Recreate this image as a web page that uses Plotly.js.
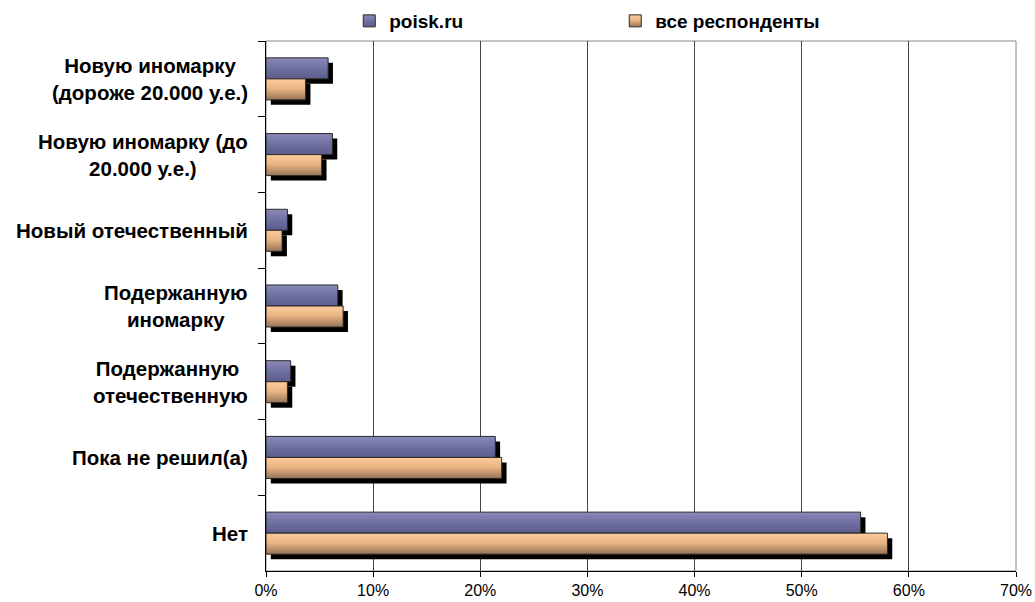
<!DOCTYPE html>
<html><head><meta charset="utf-8">
<script src="https://cdn.plot.ly/plotly-3.0.1.min.js"></script>
<style>html,body{margin:0;padding:0;background:#fff}#chart{width:1035px;height:602px}</style>
</head><body><div id="chart"></div>
<script>
const categories = [
  'Новую иномарку (дороже 20.000 у.е.)',
  'Новую иномарку (до 20.000 у.е.)',
  'Новый отечественный',
  'Подержанную иномарку',
  'Подержанную отечественную',
  'Пока не решил(а)',
  'Нет'
];
const categoryLabels = [
  'Новую иномарку<br>(дороже 20.000 у.е.)',
  'Новую иномарку (до<br>20.000 у.е.)',
  'Новый отечественный',
  'Подержанную<br>иномарку',
  'Подержанную <br>отечественную',
  'Пока не решил(а)',
  'Нет'
];
const seriesNames = ['poisk.ru', 'все респонденты'];
const poiskValues = [5.8, 6.2, 2.0, 6.7, 2.3, 21.4, 55.5];
const allValues   = [3.7, 5.2, 1.5, 7.2, 2.0, 22.0, 58.0];
const xTickVals = [0, 10, 20, 30, 40, 50, 60, 70];
const xTickText = ['0%', '10%', '20%', '30%', '40%', '50%', '60%', '70%'];

const FONT = '"Liberation Sans", Arial, sans-serif';
const BW = 0.2775;      // bar thickness in category units
const SH_Y = 0.066;     // shadow vertical shift (category units)
const SH_X = 0.45;      // shadow horizontal shift (x units)

function bold(s) { return '<b>' + s.split('<br>').join('</b><br><b>') + '</b>'; }

function shadow(vals, off) {
  return {type: 'bar', orientation: 'h', y: categories, x: vals, base: SH_X,
    offset: off + SH_Y, width: BW, marker: {color: '#000', line: {width: 0}},
    showlegend: false, hoverinfo: 'skip'};
}
const traces = [
  shadow(poiskValues, -BW),
  shadow(allValues, 0),
  {type: 'bar', orientation: 'h', name: bold(seriesNames[0]), y: categories, x: poiskValues,
   offset: -BW, width: BW, marker: {color: '#7070a2', line: {color: '#2a2a2a', width: 1}}},
  {type: 'bar', orientation: 'h', name: bold(seriesNames[1]), y: categories, x: allValues,
   offset: 0, width: BW, marker: {color: '#dcaa80', line: {color: '#2a2a2a', width: 1}}}
];

const annotations = categories.map((c, i) => ({
  xref: 'paper', yref: 'y', x: 0, y: c, xanchor: 'right', yanchor: 'middle',
  xshift: -16, align: 'center', showarrow: false, text: bold(categoryLabels[i]),
  font: {family: FONT, size: 20.5, color: '#000'}
}));

const layout = {
  width: 1035, height: 602,
  margin: {l: 266, r: 19, t: 41, b: 31, autoexpand: false},
  paper_bgcolor: '#fff', plot_bgcolor: '#fff',
  barmode: 'overlay',
  font: {family: FONT, color: '#000'},
  xaxis: {range: [0, 70], tickvals: xTickVals, ticktext: xTickText,
    showgrid: true, gridcolor: '#444', gridwidth: 1, zeroline: false,
    showline: true, linecolor: '#000', linewidth: 1,
    ticks: 'outside', ticklen: 5, tickcolor: '#000',
    tickfont: {family: FONT, size: 16, color: '#000'}, fixedrange: true},
  yaxis: {type: 'category', categoryorder: 'array', categoryarray: categories,
    range: [6.5, -0.5], showgrid: false, zeroline: false,
    showline: true, linecolor: '#000', linewidth: 1,
    ticks: 'outside', tickson: 'boundaries', ticklen: 7, tickcolor: '#000',
    showticklabels: false, fixedrange: true},
  shapes: [{type: 'rect', xref: 'paper', yref: 'paper', x0: 0, x1: 1, y0: 0, y1: 1,
    line: {color: '#888', width: 1}, layer: 'below'}],
  legend: {orientation: 'h', x: 0.111, xanchor: 'left', y: 1.0377, yanchor: 'middle',
    entrywidth: 221, entrywidthmode: 'pixels', traceorder: 'normal',
    font: {family: FONT, size: 19, color: '#000'}, bgcolor: 'rgba(0,0,0,0)'},
  annotations: annotations,
  showlegend: true
};

function addGradients(gd) {
  const svg = gd.querySelector('svg.main-svg');
  if (!svg) return;
  const ns = 'http://www.w3.org/2000/svg';
  let defs = svg.querySelector('defs');
  if (!defs) { defs = document.createElementNS(ns, 'defs'); svg.insertBefore(defs, svg.firstChild); }
  const grads = {
    gP: [['0%', '#8989ba'], ['55%', '#6d6d9f'], ['100%', '#5b5b8c']],
    gO: [['0%', '#fccc9c'], ['45%', '#eab584'], ['100%', '#987458']]
  };
  Object.keys(grads).forEach(id => {
    if (defs.querySelector('#' + id)) return;
    const lg = document.createElementNS(ns, 'linearGradient');
    lg.setAttribute('id', id);
    lg.setAttribute('x1', '0'); lg.setAttribute('y1', '0');
    lg.setAttribute('x2', '0'); lg.setAttribute('y2', '1');
    grads[id].forEach(s => {
      const st = document.createElementNS(ns, 'stop');
      st.setAttribute('offset', s[0]); st.setAttribute('stop-color', s[1]);
      lg.appendChild(st);
    });
    defs.appendChild(lg);
  });
  const barTraces = gd.querySelectorAll('.barlayer .trace.bars');
  const map = {2: 'gP', 3: 'gO'};
  barTraces.forEach((t, i) => {
    if (map[i]) t.querySelectorAll('path').forEach(p => p.style.fill = 'url(#' + map[i] + ')');
  });
  const leg = gd.querySelectorAll('.legend .traces');
  leg.forEach((t, i) => {
    const id = i === 0 ? 'gP' : 'gO';
    t.querySelectorAll('.legendpoints path').forEach(p => p.style.fill = 'url(#' + id + ')');
  });
}

const gd = document.getElementById('chart');
Plotly.newPlot(gd, traces, layout, {displayModeBar: false, staticPlot: true}).then(() => {
  addGradients(gd);
  gd.on('plotly_afterplot', () => addGradients(gd));
});
</script>
</body></html>
